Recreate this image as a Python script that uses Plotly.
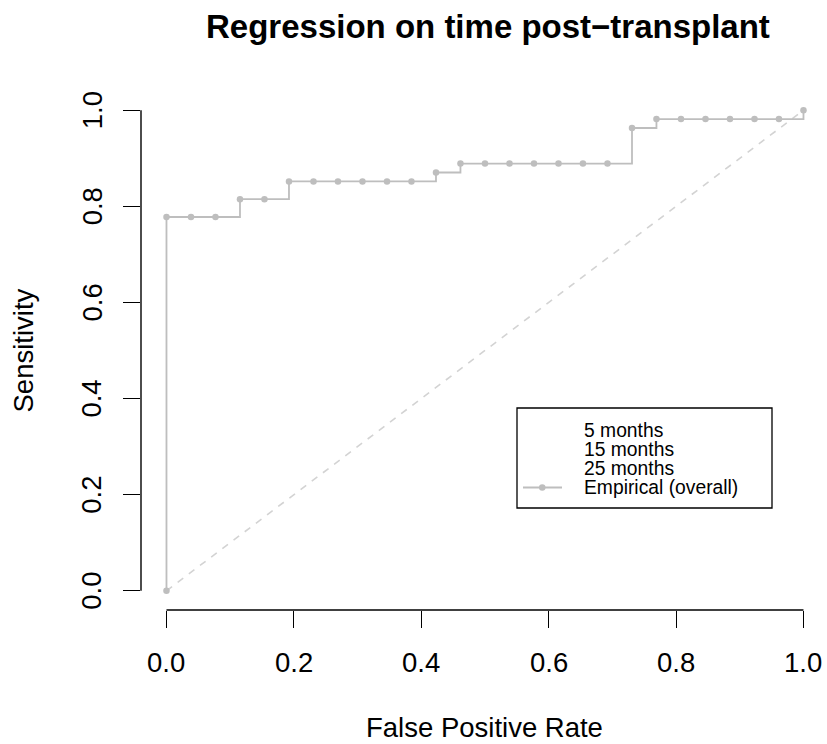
import plotly.graph_objects as go

# Empirical ROC curve (false positive rate vs sensitivity)
fpr = [0.0, 0.0, 0.0385, 0.0769, 0.1154, 0.1538, 0.1923, 0.2308, 0.2692,
       0.3077, 0.3462, 0.3846, 0.4231, 0.4615, 0.5, 0.5385, 0.5769, 0.6154,
       0.6538, 0.6923, 0.7308, 0.7692, 0.8077, 0.8462, 0.8846, 0.9231,
       0.9615, 1.0]
sens = [0.0, 0.7778, 0.7778, 0.7778, 0.8148, 0.8148, 0.8519, 0.8519, 0.8519,
        0.8519, 0.8519, 0.8519, 0.8704, 0.8889, 0.8889, 0.8889, 0.8889, 0.8889,
        0.8889, 0.8889, 0.963, 0.9815, 0.9815, 0.9815, 0.9815, 0.9815,
        0.9815, 1.0]

ref_line = [0.0, 1.0]
tick_vals = [0.0, 0.2, 0.4, 0.6, 0.8, 1.0]
tick_text = ["0.0", "0.2", "0.4", "0.6", "0.8", "1.0"]
legend_labels = ["5 months", "15 months", "25 months", "Empirical (overall)"]

title = "Regression on time post\u2212transplant"
x_title = "False Positive Rate"
y_title = "Sensitivity"

W, H = 827, 744
ML, MR, MT, MB = 141, 0, 91, 134
PW, PH = W - ML - MR, H - MT - MB

FONT = "Liberation Sans, Arial, Helvetica, sans-serif"
CURVE = "#BEBEBE"
BASE = 27.5


def px_x(p):
    return (p - ML) / PW


def px_y(p):
    return (H - MB - p) / PH


fig = go.Figure()

# chance diagonal
fig.add_trace(go.Scatter(
    x=ref_line, y=ref_line, mode="lines",
    line=dict(color="#D3D3D3", width=1.6, dash="7px,7px"),
    hoverinfo="skip", showlegend=False))

# empirical step curve
fig.add_trace(go.Scatter(
    x=fpr, y=sens, mode="lines+markers", line_shape="hv",
    line=dict(color=CURVE, width=1.8),
    marker=dict(color=CURVE, size=6.5),
    showlegend=False))

shapes = []
annotations = []

# axis lines spanning the tick range only
shapes.append(dict(type="line", xref="x", yref="paper",
                   x0=tick_vals[0], x1=tick_vals[-1], y0=0, y1=0,
                   line=dict(color="black", width=1.4)))
shapes.append(dict(type="line", xref="paper", yref="y",
                   x0=0, x1=0, y0=tick_vals[0], y1=tick_vals[-1],
                   line=dict(color="black", width=1.4)))

# tick labels
for v, t in zip(tick_vals, tick_text):
    annotations.append(dict(x=v, y=0, xref="x", yref="paper", text=t,
                            showarrow=False, xanchor="center", yanchor="middle",
                            yshift=-52, font=dict(size=BASE, color="black", family=FONT)))
    annotations.append(dict(x=0, y=v, xref="paper", yref="y", text=t,
                            showarrow=False, xanchor="center", yanchor="middle",
                            textangle=-90, xshift=-49,
                            font=dict(size=BASE, color="black", family=FONT)))

# axis titles and main title
annotations.append(dict(x=0.5, y=0, xref="x", yref="paper", text=x_title,
                        showarrow=False, xanchor="center", yanchor="middle",
                        yshift=-117, font=dict(size=BASE, color="black", family=FONT)))
annotations.append(dict(x=0, y=0.5, xref="paper", yref="y", text=y_title,
                        showarrow=False, xanchor="center", yanchor="middle",
                        textangle=-90, xshift=-118,
                        font=dict(size=BASE, color="black", family=FONT)))
annotations.append(dict(x=px_x(488), y=1, xref="paper", yref="paper",
                        text="<b>" + title + "</b>",
                        showarrow=False, xanchor="center", yanchor="middle",
                        yshift=65, font=dict(size=33, color="black", family=FONT)))

# legend box
LX0, LX1, LY0, LY1 = 517, 772, 408, 508
shapes.append(dict(type="rect", xref="paper", yref="paper",
                   x0=px_x(LX0), x1=px_x(LX1), y0=px_y(LY1), y1=px_y(LY0),
                   line=dict(color="black", width=1.3), fillcolor="white"))
row_y = [430.5, 449.5, 468.5, 487.5]
for lab, ry in zip(legend_labels, row_y):
    annotations.append(dict(x=px_x(582), y=px_y(ry), xref="paper", yref="paper",
                            text=lab, showarrow=False, xanchor="left", yanchor="middle",
                            font=dict(size=19.3, color="black", family=FONT)))
# sample glyph for the empirical curve
shapes.append(dict(type="line", xref="paper", yref="paper",
                   x0=px_x(523), x1=px_x(562), y0=px_y(row_y[-1]), y1=px_y(row_y[-1]),
                   line=dict(color=CURVE, width=1.8)))
shapes.append(dict(type="circle", xref="paper", yref="paper",
                   x0=px_x(539), x1=px_x(545.5), y0=px_y(row_y[-1] + 3.25),
                   y1=px_y(row_y[-1] - 3.25),
                   line=dict(color=CURVE, width=0), fillcolor=CURVE))

fig.update_layout(
    width=W, height=H,
    margin=dict(l=ML, r=MR, t=MT, b=MB, pad=0),
    paper_bgcolor="white", plot_bgcolor="white",
    shapes=shapes, annotations=annotations,
    xaxis=dict(range=[-0.04, -0.04 + PW / 637.0], showgrid=False, zeroline=False,
               showline=False, tickvals=tick_vals, ticks="outside", ticklen=17,
               tickwidth=1.4, tickcolor="black", showticklabels=False, fixedrange=True),
    yaxis=dict(range=[-0.04, 1.04], showgrid=False, zeroline=False,
               showline=False, tickvals=tick_vals, ticks="outside", ticklen=17,
               tickwidth=1.4, tickcolor="black", showticklabels=False, fixedrange=True),
    font=dict(family=FONT, color="black"),
    showlegend=False,
)

fig.write_html("out.html", include_plotlyjs=True)
